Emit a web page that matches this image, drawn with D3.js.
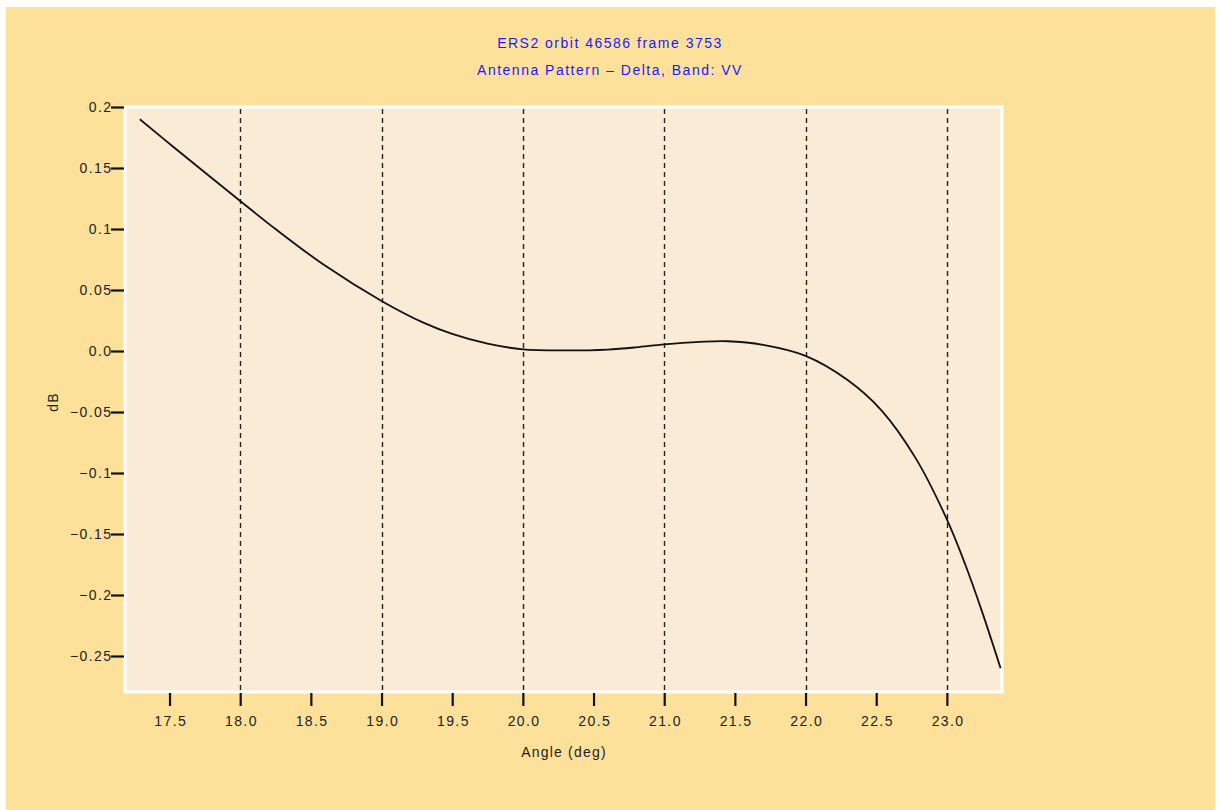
<!DOCTYPE html>
<html>
<head>
<meta charset="utf-8">
<script src="https://cdn.jsdelivr.net/npm/d3@7"></script>
<style>
  html, body { margin: 0; padding: 0; background: #ffffff; }
  svg { display: block; }
  text { font-family: "Liberation Sans", Arial, sans-serif; }
</style>
</head>
<body>
<svg id="chart" width="1218" height="810"></svg>
<script>
// ---- Data ----
const angles = [17.29, 17.53, 18.0, 18.25, 18.6, 19.0, 19.3, 19.5, 19.75, 20.0, 20.3, 20.6, 20.8, 21.0, 21.25, 21.45, 21.7, 22.0, 22.3, 22.54, 22.78, 23.0, 23.13, 23.25, 23.38];
const dB     = [0.190, 0.167, 0.123, 0.100, 0.070, 0.041, 0.023, 0.014, 0.006, 0.0014, 0.0005, 0.0012, 0.003, 0.0055, 0.0075, 0.008, 0.005, -0.004, -0.024, -0.049, -0.088, -0.138, -0.175, -0.214, -0.260];
const xTicks = [17.5, 18.0, 18.5, 19.0, 19.5, 20.0, 20.5, 21.0, 21.5, 22.0, 22.5, 23.0];
const xTickLabels = ["17.5", "18.0", "18.5", "19.0", "19.5", "20.0", "20.5", "21.0", "21.5", "22.0", "22.5", "23.0"];
const yTicks = [0.2, 0.15, 0.1, 0.05, 0.0, -0.05, -0.1, -0.15, -0.2, -0.25];
const yTickLabels = ["0.2", "0.15", "0.1", "0.05", "0.0", "\u22120.05", "\u22120.1", "\u22120.15", "\u22120.2", "\u22120.25"];
const gridAngles = [18, 19, 20, 21, 22, 23];
const titleLines = ["ERS2 orbit 46586 frame 3753", "Antenna Pattern \u2013 Delta, Band: VV"];
const xLabel = "Angle (deg)";
const yLabel = "dB";

// ---- Layout ----
const svg = d3.select("#chart");
const plot = { left: 125, top: 107, right: 1002, bottom: 692 };
const fontSize = "14px";
const spacing = "1.4px";

svg.append("rect").attr("x", 6).attr("y", 7).attr("width", 1209).attr("height", 803).attr("fill", "#fde19a");

const x = d3.scaleLinear().domain([17.185, 23.39]).range([plot.left, plot.right]);
const y = d3.scaleLinear().domain([-0.2795, 0.2]).range([plot.bottom, plot.top]);

// plot background with white frame
svg.append("rect")
  .attr("x", plot.left).attr("y", plot.top)
  .attr("width", plot.right - plot.left).attr("height", plot.bottom - plot.top)
  .attr("fill", "#faebd7").attr("stroke", "#ffffff").attr("stroke-width", 3);

// vertical dashed grid
svg.append("g").selectAll("line").data(gridAngles).join("line")
  .attr("x1", d => Math.round(x(d)) + 0.5).attr("x2", d => Math.round(x(d)) + 0.5)
  .attr("y1", plot.top + 2).attr("y2", plot.bottom - 2)
  .attr("stroke", "#222").attr("stroke-width", 1.4).attr("stroke-dasharray", "5,4");

// curve
const line = d3.line().x((d, i) => x(angles[i])).y(d => y(d)).curve(d3.curveCatmullRom.alpha(0.5));
svg.append("path").datum(dB).attr("d", line)
  .attr("fill", "none").attr("stroke", "#111").attr("stroke-width", 1.8);

// x axis
const xAxis = d3.axisBottom(x).tickValues(xTicks).tickSize(13).tickPadding(10)
  .tickFormat((d, i) => xTickLabels[i]);
const gx = svg.append("g").attr("transform", `translate(0,${plot.bottom + 1})`).call(xAxis);
gx.select(".domain").remove();
gx.selectAll(".tick line").attr("stroke", "#111").attr("stroke-width", 2.2);
gx.selectAll(".tick text").attr("fill", "#222").style("font-size", fontSize)
  .style("letter-spacing", spacing).attr("dx", "0.7px");

// y axis
const yAxis = d3.axisLeft(y).tickValues(yTicks).tickSize(13).tickPadding(0)
  .tickFormat((d, i) => yTickLabels[i]);
const gy = svg.append("g").attr("transform", `translate(${plot.left - 1},0)`).call(yAxis);
gy.select(".domain").remove();
gy.selectAll(".tick line").attr("stroke", "#111").attr("stroke-width", 2.2);
gy.selectAll(".tick text").attr("fill", "#222").style("font-size", fontSize)
  .style("letter-spacing", spacing).attr("dx", "1.4px");

// axis labels
svg.append("text").attr("x", 564).attr("y", 757).attr("text-anchor", "middle")
  .attr("fill", "#222").style("font-size", fontSize).style("letter-spacing", "1.2px").text(xLabel);
svg.append("text").attr("transform", "translate(58,402) rotate(-90)").attr("text-anchor", "middle")
  .attr("fill", "#222").style("font-size", fontSize).style("letter-spacing", "1.2px").text(yLabel);

// title
svg.append("g").selectAll("text").data(titleLines).join("text")
  .attr("x", 610).attr("y", (d, i) => 48 + i * 27).attr("text-anchor", "middle")
  .attr("fill", "#1a1aff").style("font-size", fontSize).style("letter-spacing", "1.5px").text(d => d);
</script>
</body>
</html>
